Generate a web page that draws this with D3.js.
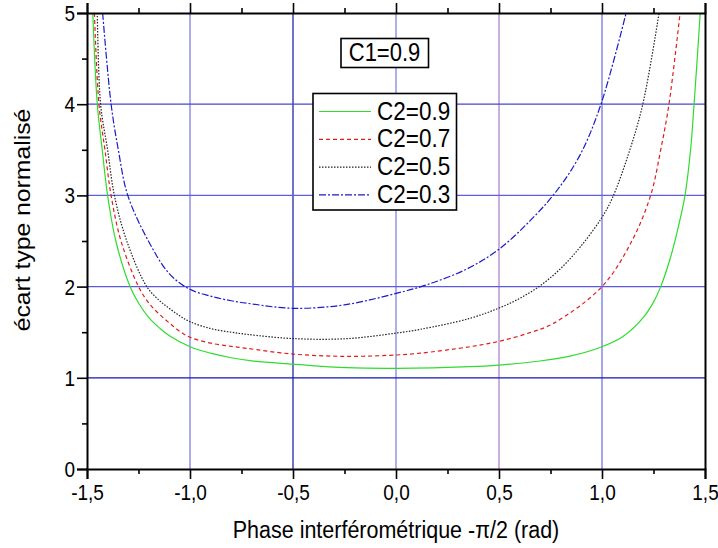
<!DOCTYPE html>
<html>
<head>
<meta charset="utf-8">
<script src="https://cdn.jsdelivr.net/npm/d3@7"></script>
<style>
  html, body { margin: 0; padding: 0; background: #fff; }
  svg { display: block; font-family: "Liberation Sans", Arial, sans-serif; }
</style>
</head>
<body>
<svg id="chart" width="718" height="548"></svg>
<script>
// ---------------- data ----------------
const seriesLabels = ["C2=0.9", "C2=0.7", "C2=0.5", "C2=0.3"];
const annotation = "C1=0.9";
const xTitle = "Phase interférométrique -π/2 (rad)";
const yTitle = "écart type normalisé";
const xTicks = [-1.5, -1.0, -0.5, 0.0, 0.5, 1.0, 1.5];
const yTicks = [0, 1, 2, 3, 4, 5];

const phaseC09 = [-1.472, -1.45, -1.426, -1.40, -1.36, -1.291, -1.25, -1.2, -1.15, -1.1, -1.0, -0.9, -0.8, -0.7, -0.5, -0.24, 0.0, 0.359, 0.5, 0.699, 0.85, 1.0, 1.1, 1.2, 1.25, 1.285, 1.33, 1.37, 1.403, 1.43, 1.447, 1.477];
const valueC09 = [5, 4, 3.5, 3, 2.5, 2, 1.82, 1.66, 1.55, 1.46, 1.341, 1.27, 1.22, 1.185, 1.15, 1.111, 1.104, 1.122, 1.14, 1.184, 1.24, 1.341, 1.45, 1.66, 1.83, 2, 2.3, 2.65, 3, 3.5, 4, 5];

const phaseC07 = [-1.464, -1.442, -1.413, -1.383, -1.335, -1.25, -1.2, -1.15, -1.1, -1.05, -1.0, -0.9, -0.8, -0.725, -0.5, -0.24, 0.0, 0.117, 0.359, 0.5, 0.65, 0.764, 1.0, 1.145, 1.236, 1.285, 1.325, 1.379];
const valueC07 = [5, 4, 3.5, 3, 2.5, 2, 1.82, 1.70, 1.6, 1.51, 1.444, 1.38, 1.345, 1.323, 1.26, 1.235, 1.25, 1.27, 1.341, 1.40, 1.495, 1.597, 2.0, 2.5, 3, 3.5, 4, 5];

const phaseC05 = [-1.45, -1.434, -1.40, -1.367, -1.307, -1.21, -1.15, -1.1, -1.05, -1.0, -0.9, -0.8, -0.725, -0.5, -0.24, 0.0, 0.117, 0.359, 0.5, 0.6, 0.7, 0.8, 0.9, 1.0, 1.05, 1.128, 1.198, 1.277];
const valueC05 = [5, 4, 3.5, 3, 2.5, 2, 1.85, 1.76, 1.68, 1.615, 1.54, 1.5, 1.477, 1.43, 1.429, 1.49, 1.531, 1.652, 1.765, 1.87, 2.01, 2.2, 2.45, 2.76, 2.97, 3.45, 4, 5];

const phaseC03 = [-1.424, -1.383, -1.348, -1.302, -1.202, -1.1, -1.0, -0.9, -0.8, -0.7, -0.5, -0.25, 0.0, 0.15, 0.35, 0.5, 0.65, 0.78, 0.895, 0.995, 1.117];
const valueC03 = [5, 4, 3.5, 3, 2.5, 2.14, 1.97, 1.895, 1.845, 1.81, 1.762, 1.80, 1.925, 2.02, 2.2, 2.41, 2.72, 3.05, 3.45, 4.0, 5];

// ---------------- layout ----------------
const svg = d3.select("#chart");
const mLeft = 87, mRight = 705, mTop = 13, mBottom = 469;
const x = d3.scaleLinear().domain([-1.5, 1.5]).range([mLeft, mRight]);
const y = d3.scaleLinear().domain([0, 5]).range([mBottom, mTop]);
const STRETCH = 1.15;
const fmt = d => d3.format(".1f")(d).replace("\u2212", "-").replace(".", ",");

const series = [
  { label: seriesLabels[0], xs: phaseC09, ys: valueC09, color: "#2edc2e", dash: null },
  { label: seriesLabels[1], xs: phaseC07, ys: valueC07, color: "#e01c1c", dash: "4,3" },
  { label: seriesLabels[2], xs: phaseC05, ys: valueC05, color: "#222222", dash: "1.5,1.5" },
  { label: seriesLabels[3], xs: phaseC03, ys: valueC03, color: "#1a1acc", dash: "7,2,2,2" }
];

// grid lines
const vGridColors = { "-1": "#7272e2", "-0.5": "#1212a8", "0": "#7a7ae0", "0.5": "#a87ac2", "1": "#6a6ae0" };
const hGridColors = { "1": "#1414b8", "2": "#5a5ae0", "3": "#5e5ee2", "4": "#4646d4" };
const grid = svg.append("g");
[-1, -0.5, 0, 0.5, 1].forEach(v => {
  grid.append("line").attr("x1", x(v)).attr("x2", x(v)).attr("y1", y(0)).attr("y2", y(5))
    .attr("stroke", vGridColors[String(v)]).attr("stroke-width", 1.2);
});
[1, 2, 3, 4].forEach(v => {
  grid.append("line").attr("x1", x(-1.5)).attr("x2", x(1.5)).attr("y1", y(v)).attr("y2", y(v))
    .attr("stroke", hGridColors[String(v)]).attr("stroke-width", 1.2);
});

// clip
svg.append("clipPath").attr("id", "plotclip").append("rect")
  .attr("x", mLeft).attr("y", mTop).attr("width", mRight - mLeft).attr("height", mBottom - mTop);

const line = d3.line().x(d => x(d[0])).y(d => y(d[1])).curve(d3.curveCatmullRom.alpha(0.5));
const curves = svg.append("g").attr("clip-path", "url(#plotclip)");
series.forEach(s => {
  const pts = s.xs.map((v, i) => [v, s.ys[i]]);
  curves.append("path").datum(pts).attr("d", line)
    .attr("fill", "none").attr("stroke", s.color).attr("stroke-width", 1.2)
    .attr("stroke-dasharray", s.dash);
});

// axes
function styleAxis(g) {
  g.select(".domain").attr("stroke", "#000").attr("stroke-width", 2);
  g.selectAll(".tick line").attr("stroke", "#000").attr("stroke-width", 1.6);
}
function styleMinor(g) {
  g.select(".domain").remove();
  g.selectAll(".tick line").attr("stroke", "#000").attr("stroke-width", 1.6);
}
const minorX = d3.range(-1.25, 1.5, 0.5);
const minorY = d3.range(0.5, 5, 1);

const gBottom = svg.append("g").attr("transform", `translate(0,${mBottom})`)
  .call(d3.axisBottom(x).tickValues(xTicks).tickSize(10).tickPadding(5).tickFormat(fmt));
styleAxis(gBottom);
svg.append("g").attr("transform", `translate(0,${mBottom})`)
  .call(d3.axisBottom(x).tickValues(minorX).tickSize(5).tickFormat("")).call(styleMinor);

const gTop = svg.append("g").attr("transform", `translate(0,${mTop})`)
  .call(d3.axisTop(x).tickValues(xTicks).tickSize(10).tickFormat(""));
styleAxis(gTop);
svg.append("g").attr("transform", `translate(0,${mTop})`)
  .call(d3.axisTop(x).tickValues(minorX).tickSize(5).tickFormat("")).call(styleMinor);

const gLeft = svg.append("g").attr("transform", `translate(${mLeft},0)`)
  .call(d3.axisLeft(y).tickValues(yTicks).tickSize(10).tickPadding(5).tickFormat(d3.format("d")));
styleAxis(gLeft);
svg.append("g").attr("transform", `translate(${mLeft},0)`)
  .call(d3.axisLeft(y).tickValues(minorY).tickSize(5).tickFormat("")).call(styleMinor);

const gRight = svg.append("g").attr("transform", `translate(${mRight},0)`)
  .call(d3.axisRight(y).tickValues(yTicks).tickSize(0).tickFormat(""));
styleAxis(gRight);

// tick label styling (vertically stretched like the reference)
gBottom.selectAll(".tick text")
  .attr("font-size", 19).attr("fill", "#000").attr("font-family", "Liberation Sans, Arial, sans-serif")
  .attr("dy", null).attr("y", 0)
  .attr("transform", `translate(0,31) scale(1,${STRETCH})`);
gLeft.selectAll(".tick text")
  .attr("font-size", 19).attr("fill", "#000").attr("font-family", "Liberation Sans, Arial, sans-serif")
  .attr("dy", null).attr("x", 0).attr("y", 0)
  .attr("transform", `translate(-12,7.5) scale(1,${STRETCH})`);

// titles
svg.append("text").attr("text-anchor", "middle").attr("font-size", 21.5).attr("fill", "#000")
  .attr("transform", `translate(${(mLeft + mRight) / 2},538) scale(1,${STRETCH})`)
  .text(xTitle);
svg.append("text").attr("text-anchor", "middle").attr("font-size", 21.5).attr("fill", "#000")
  .attr("transform", `translate(30,220) rotate(-90) scale(${STRETCH},1)`)
  .text(yTitle);

// annotation box
const ann = svg.append("g");
ann.append("rect").attr("x", 341).attr("y", 38.5).attr("width", 87.5).attr("height", 29)
  .attr("fill", "#fff").attr("stroke", "#000").attr("stroke-width", 1.6);
ann.append("text").attr("text-anchor", "middle").attr("font-size", 22).attr("fill", "#000")
  .attr("transform", `translate(384.5,61) scale(1,${STRETCH})`).text(annotation);

// legend
const leg = svg.append("g");
leg.append("rect").attr("x", 313).attr("y", 93.5).attr("width", 143.5).attr("height", 116.5)
  .attr("fill", "#fff").attr("stroke", "#000").attr("stroke-width", 1.6);
series.forEach((s, i) => {
  const cy = 111.5 + i * 27.8;
  leg.append("line").attr("x1", 319).attr("x2", 371).attr("y1", cy).attr("y2", cy)
    .attr("stroke", s.color).attr("stroke-width", 1.2).attr("stroke-dasharray", s.dash);
  leg.append("text").attr("font-size", 22.5).attr("fill", "#000")
    .attr("transform", `translate(377,${cy + 8}) scale(1,${STRETCH})`).text(s.label);
});
</script>
</body>
</html>
